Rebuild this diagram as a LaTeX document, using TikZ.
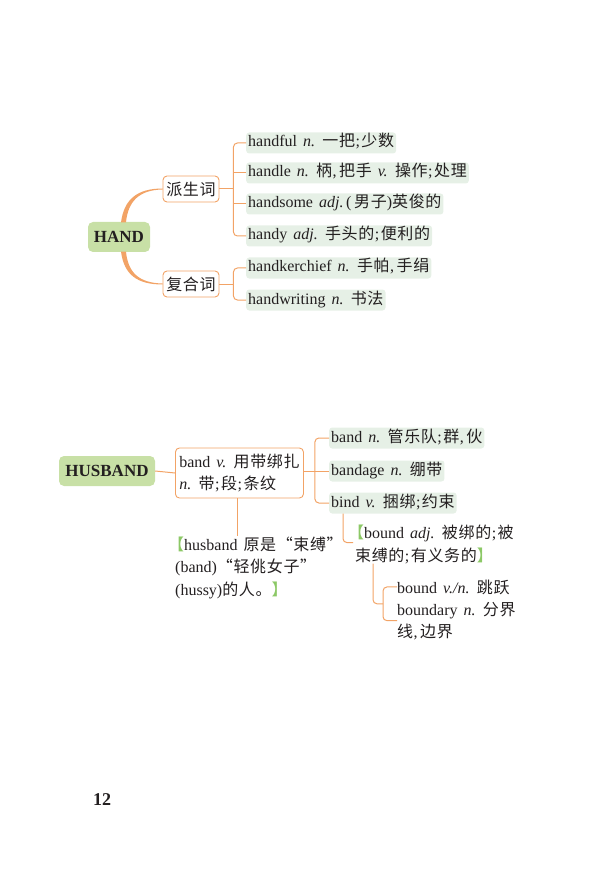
\documentclass[tikz,border=0pt]{standalone}
\usepackage{fontspec}
\setmainfont[WordSpace=1.5]{Liberation Serif}
\newfontfamily\cjk[Scale=1.0,LetterSpace=4]{Noto Sans CJK SC}
\newcommand{\zh}[1]{{\cjk #1}}
\usetikzlibrary{calc}
\definecolor{lineorange}{HTML}{F2A366}
\definecolor{hubgreen}{HTML}{C8E0A6}
\definecolor{itemgreen}{HTML}{E6F0E6}
\definecolor{brkgreen}{HTML}{8CC866}
\definecolor{ink}{HTML}{231F20}
\newcommand{\lb}{\hspace*{-7pt}\textcolor{brkgreen}{\zh{【}}}
\newcommand{\rb}{\textcolor{brkgreen}{\zh{】}}}
\newcommand{\sm}{\kern0.5pt;\kern1.5pt}
\newcommand{\cm}{\kern0.5pt,\kern2.5pt}
\begin{document}
\begin{tikzpicture}[x=1pt,y=-1pt,
  every node/.style={text=ink, font=\fontsize{16}{19}\selectfont},
  hub/.style={fill=hubgreen, rounded corners=5pt, inner sep=0pt, minimum height=30pt, font=\fontsize{17}{19}\selectfont\bfseries},
  catbox/.style={draw=lineorange, fill=white, rounded corners=4pt, line width=0.9pt, minimum width=56pt, minimum height=26pt, inner sep=0pt},
  item/.style={fill=itemgreen, rounded corners=3pt, anchor=west, minimum height=21pt, inner xsep=2pt, inner ysep=0pt, text height=11.5pt, text depth=3.5pt},
  conn/.style={draw=lineorange, line width=1pt, rounded corners=4pt},
  txt/.style={anchor=base west, inner sep=0pt}
]
\useasboundingbox (0,0) rectangle (591,874);

% ---------- HAND ----------
\node[hub, minimum width=62pt] (hand) at (119,237) {HAND};
\node[catbox] (pai) at (191,189) {\zh{派生词}};
\node[catbox] (fu) at (191,284) {\zh{复合词}};

\fill[lineorange] ($(hand.north)+(2,0.5)$) .. controls ($(hand.north)+(5,-22)$) and ($(pai.west)+(-26,-0.5)$) .. ($(pai.west)+(0,-0.5)$)
  -- ($(pai.west)+(0,0.5)$) .. controls ($(pai.west)+(-24,1)$) and ($(hand.north)+(9,-20)$) .. ($(hand.north)+(7,0.5)$) -- cycle;
\fill[lineorange] ($(hand.south)+(2,-0.5)$) .. controls ($(hand.south)+(5,22)$) and ($(fu.west)+(-26,0.5)$) .. ($(fu.west)+(0,0.5)$)
  -- ($(fu.west)+(0,-0.5)$) .. controls ($(fu.west)+(-24,-1)$) and ($(hand.south)+(9,20)$) .. ($(hand.south)+(7,-0.5)$) -- cycle;

\node[item] (i1) at (246,143) {handful \textit{n.} \zh{一把}\sm\zh{少数}};
\node[item] (i2) at (246,173) {handle \textit{n.} \zh{柄}\cm\zh{把手} \textit{v.} \zh{操作}\sm\zh{处理}};
\node[item] (i3) at (246,204) {handsome \textit{adj.}\,(\,\zh{男子})\zh{英俊的}};
\node[item] (i4) at (246,236) {handy \textit{adj.} \zh{手头的}\sm\zh{便利的}};
\node[item] (i5) at (246,268) {handkerchief \textit{n.} \zh{手帕}\cm\zh{手绢}};
\node[item] (i6) at (246,300) {handwriting \textit{n.} \zh{书法}};

\coordinate (b1) at ($(pai.east)+(14,0)$);
\draw[conn] (pai.east) -- (b1);
\draw[conn] (i1.west) -- (i1.west -| b1) -- (i4.west -| b1) -- (i4.west);
\draw[conn] (i2.west -| b1) -- (i2.west);
\draw[conn] (i3.west -| b1) -- (i3.west);

\coordinate (b2) at ($(fu.east)+(14,0)$);
\draw[conn] (fu.east) -- (b2);
\draw[conn] (i5.west) -- (i5.west -| b2) -- (i6.west -| b2) -- (i6.west);

% ---------- HUSBAND ----------
\node[hub, minimum width=96pt] (husband) at (107,471) {HUSBAND};
\node[catbox, anchor=west, align=left, minimum width=128pt, minimum height=50pt, inner xsep=3pt,
      font=\fontsize{16}{22}\selectfont] (band) at (175,473)
  {band \textit{v.} \zh{用带绑扎}\\\textit{n.} \zh{带}\sm\zh{段}\sm\zh{条纹}};
\draw[conn] (husband.east) -- (band.west);

\node[item] (bandn) at (329,438) {band \textit{n.} \zh{管乐队}\sm\zh{群}\cm\zh{伙}};
\node[item] (bandage) at (329,471) {bandage \textit{n.} \zh{绷带}};
\node[item] (bind) at (329,503) {bind \textit{v.} \zh{捆绑}\sm\zh{约束}};

\draw[conn] (band.east |- bandage.west) -- (bandage.west);
\coordinate (b3) at ($(band.east)+(11,0)$);
\draw[conn] (bandn.west) -- (bandn.west -| b3) -- (bind.west -| b3) -- (bind.west);

% note
\node[txt] (n1) at (175,550) {\lb husband \zh{原是“束缚”}};
\node[txt] (n2) at (175,572) {(band)\zh{“轻佻女子”}};
\node[txt] (n3) at (175,595) {(hussy)\zh{的人。}\rb};
\coordinate (c0) at ($(band.south)+(-2,0)$);
\draw[conn] (c0) -- (c0 |- n1.north);

% bound adj
\node[txt] (a1) at (355,538) {\lb bound \textit{adj.} \zh{被绑的}\sm\zh{被}};
\node[txt] (a2) at (355,561) {\zh{束缚的}\sm\zh{有义务的}\rb};
\coordinate (c1) at ($(bind.south west)+(14,0)$);
\draw[conn] (c1) |- ($(a1.south west)+(-2,1)$);

% bound v./n.
\node[txt] (bv1) at (397,593) {bound \textit{v./n.} \zh{跳跃}};
\node[txt] (bv2) at (397,615) {boundary \textit{n.} \zh{分界}};
\node[txt] (bv3) at (397,637) {\zh{线}\cm\zh{边界}};
\coordinate (b4) at ($(bv1.west)+(-14,0)$);
\coordinate (b4b) at ($(bv2.south west)+(0,2)$);
\draw[conn] (bv1.west) -- (b4) -- (b4 |- b4b) -- (b4b);
\coordinate (b4m) at ($(b4)!0.5!(b4 |- b4b)$);
\coordinate (c2) at ($(a2.south west)+(18,0)$);
\draw[conn] (c2) |- (b4m);

% page number
\node[font=\fontsize{18}{18}\selectfont\bfseries] (page) at (102,800) {12};
\end{tikzpicture}
\end{document}
